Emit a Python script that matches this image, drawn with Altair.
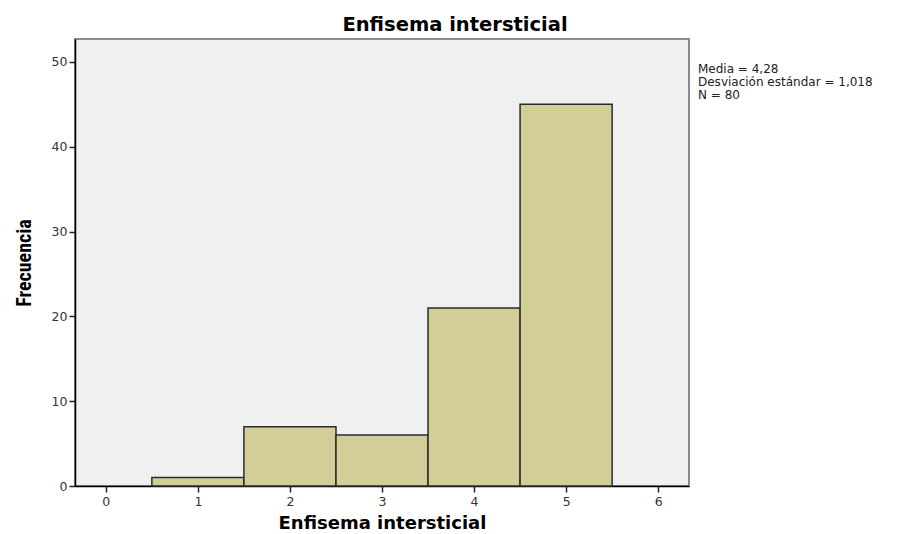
import altair as alt
import pandas as pd

values = [1, 2, 3, 4, 5]
counts = [1, 7, 6, 21, 45]
stats_lines = ["Media = 4,28", "Desviación estándar = 1,018", "N = 80"]

df = pd.DataFrame({"valor": values, "frecuencia": counts})

W, H = 614, 447
FONT = "DejaVu Sans"

bars = alt.Chart(df).transform_calculate(
    x0="datum.valor - 0.5", x1="datum.valor + 0.5"
).mark_rect(fill="#D3CE97", stroke="#2b2b2b", strokeWidth=1.5).encode(
    x=alt.X("x0:Q", scale=alt.Scale(domain=[-0.335, 6.335], nice=False, zero=False),
            axis=alt.Axis(values=[0, 1, 2, 3, 4, 5, 6], format="d", grid=False,
                          title="Enfisema intersticial", titleFontSize=18,
                          titleFont=FONT, titleFontWeight="bold", titleColor="#000",
                          titlePadding=7, labelFont=FONT, labelFontSize=12.5,
                          labelColor="#333", labelPadding=3, tickSize=6,
                          tickColor="#222", tickWidth=1.5, domainColor="#000",
                          domainWidth=1.5)),
    x2="x1:Q",
    y=alt.Y("frecuencia:Q", scale=alt.Scale(domain=[0, 52.7], nice=False),
            axis=alt.Axis(values=[0, 10, 20, 30, 40, 50], grid=False,
                          title="Frecuencia", titleFontSize=20,
                          titleFont="Liberation Sans Narrow, Roboto Condensed, Liberation Sans",
                          titleFontWeight="bold", titleColor="#000", titlePadding=17,
                          labelFont=FONT, labelFontSize=12.5, labelColor="#333",
                          labelPadding=2, tickSize=6, tickColor="#222", tickWidth=1.5,
                          domainColor="#000", domainWidth=1.5)),
    y2=alt.value(H),
)

stats_df = pd.DataFrame({"t": stats_lines, "i": [0, 1, 2]})
stats = alt.Chart(stats_df).mark_text(
    align="left", baseline="middle", font=FONT, fontSize=12, color="#222"
).encode(
    text="t:N",
    x=alt.value(W + 9),
    y=alt.Y("i:Q", scale=alt.Scale(domain=[0, 1], range=[29.5, 42.5]), axis=None),
)

chart = alt.layer(bars, stats).resolve_scale(y="independent").properties(
    width=W, height=H,
    title=alt.TitleParams("Enfisema intersticial", font=FONT, fontSize=19.5,
                          fontWeight="bold", color="#000", dx=73, offset=4),
    autosize=alt.AutoSizeParams(type="none"),
    padding={"left": 67, "top": 31, "right": 205, "bottom": 47},
).configure_view(fill="#F0F0F0", stroke="#8a8a8a", strokeWidth=2)

chart.save("out.html", embed_options={"renderer": "svg", "actions": False})
